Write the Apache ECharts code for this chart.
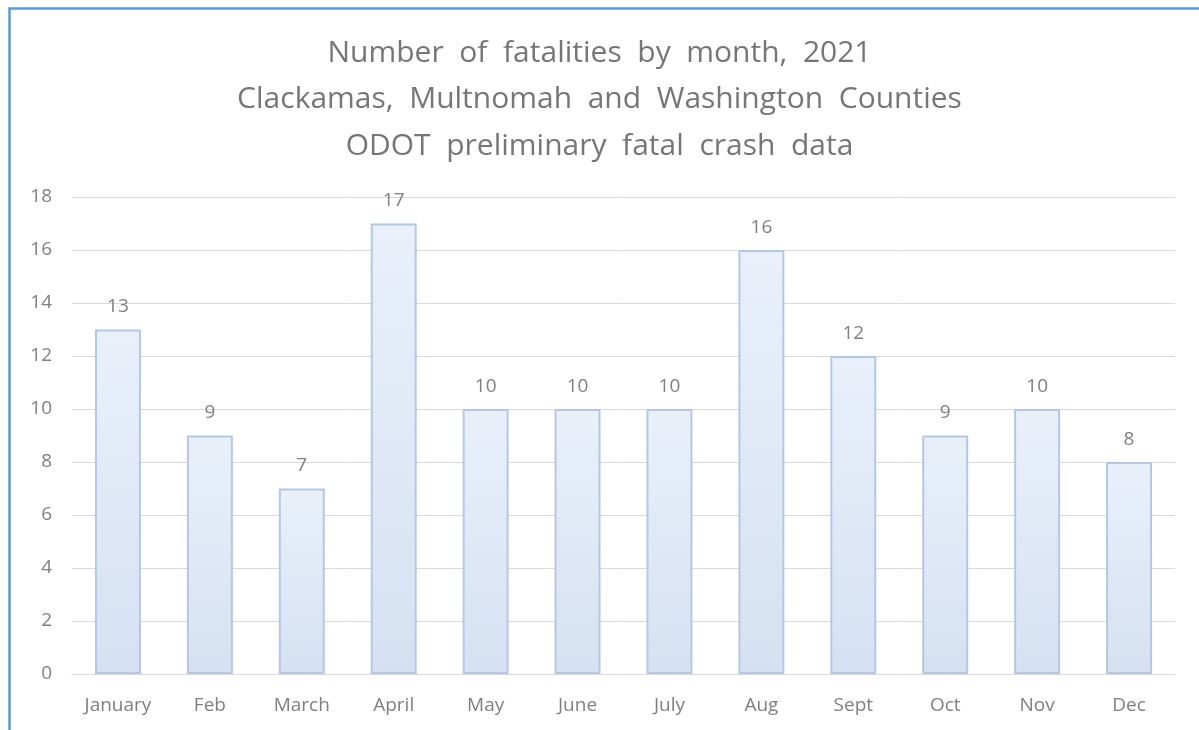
<!DOCTYPE html>
<html>
<head>
<meta charset="utf-8">
<script src="https://cdn.jsdelivr.net/npm/echarts@6/dist/echarts.min.js"></script>
<style>
html,body{margin:0;padding:0;background:#fff;}
#c{width:1199px;height:730px;}
</style>
</head>
<body>
<div id="c"></div>
<script>
const titleLines = ["Number  of  fatalities  by  month,  2021", "Clackamas,  Multnomah  and  Washington  Counties", "ODOT  preliminary  fatal  crash  data"];
const months = ["January", "Feb", "March", "April", "May", "June", "July", "Aug", "Sept", "Oct", "Nov", "Dec"];
const fatalities = [13, 9, 7, 17, 10, 10, 10, 16, 12, 9, 10, 8];
const yMin = 0, yMax = 18, yStep = 2;

const chart = echarts.init(document.getElementById('c'), null, {renderer: 'canvas'});
const font = "'Open Sans', 'Liberation Sans', sans-serif";
chart.setOption({
  backgroundColor: '#ffffff',
  animation: false,
  graphic: [{
    type: 'rect', left: 7, top: 6, z: 100,
    shape: {width: 1400, height: 1000},
    style: {fill: 'none', stroke: '#5b9bd5', lineWidth: 2.5}
  }],
  title: {
    text: titleLines.join('\n'),
    left: 'center', top: 25,
    textStyle: {fontFamily: font, fontSize: 30, fontWeight: 'normal', color: '#767676', lineHeight: 46.5}
  },
  grid: {left: 72, right: 24, top: 197, bottom: 56, containLabel: false},
  xAxis: {
    type: 'category', data: months,
    axisLine: {show: true, lineStyle: {color: '#d9d9d9', width: 1}},
    axisTick: {show: false},
    axisLabel: {color: '#7f7f7f', fontFamily: font, fontSize: 19, margin: 22}
  },
  yAxis: {
    type: 'value', min: yMin, max: yMax, interval: yStep,
    axisLine: {show: false}, axisTick: {show: false},
    axisLabel: {color: '#7f7f7f', fontFamily: font, fontSize: 19, margin: 20},
    splitLine: {lineStyle: {color: '#d9d9d9', width: 1}}
  },
  series: [{
    type: 'bar', data: fatalities, barWidth: '50%',
    itemStyle: {
      color: new echarts.graphic.LinearGradient(0, 0, 0, 1, [
        {offset: 0, color: '#e9f0fa'}, {offset: 1, color: '#d5e1f2'}
      ]),
      borderColor: '#b4c8e6', borderWidth: 2
    },
    label: {show: true, position: 'top', distance: 13, color: '#7f7f7f', fontFamily: font, fontSize: 19}
  }]
});
</script>
</body>
</html>
